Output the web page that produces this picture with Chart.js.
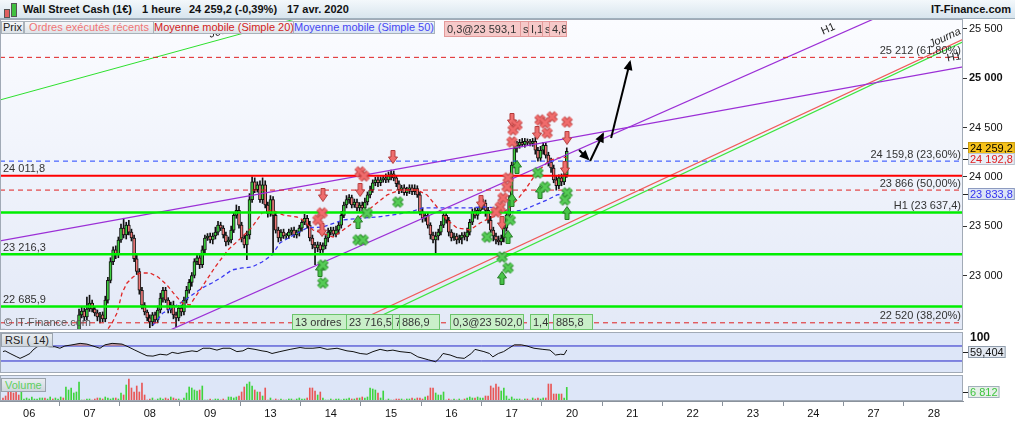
<!DOCTYPE html>
<html lang="fr">
<head>
<meta charset="UTF-8">
<title>Wall Street Cash (1€) - 1 heure</title>
<script src="https://cdn.jsdelivr.net/npm/chart.js@4.4.1/dist/chart.umd.min.js"></script>
<style>
  body { margin: 0; width: 1015px; height: 422px; overflow: hidden; position: relative; background: #fff;
         font-family: "Liberation Sans", Arial, sans-serif; }
  canvas { position: absolute; left: 0; }
  #cMain { top: 19px; }
  #cRsi { top: 332px; }
  #cVol { top: 375px; }
  .abs { position: absolute; white-space: nowrap; }
  #header { left: 0; top: 0; width: 1015px; height: 19px; box-sizing: border-box;
            background: linear-gradient(#f3f8fb, #d8e5ee); border-bottom: 1px solid #9fb0bd; }
  .title { top: 3px; font-size: 11px; font-weight: bold; color: #111; }
  .tab { top: 21px; height: 11px; line-height: 11px; font-size: 11px; border: 1px solid #a9b2ba;
         background: linear-gradient(#f5f7f9, #dde3e8); text-align: center; overflow: hidden; }
  .pink { top: 21px; height: 14px; line-height: 14px; font-size: 11px; color: #333; background: #f6c9c9;
          border: 1px solid #e39a9a; padding-left: 2px; overflow: hidden; }
  .greenbox { top: 314px; height: 14px; line-height: 14px; font-size: 11px; color: #333; background: #c9efc9;
              border: 1px solid #6cc46c; padding-left: 2px; overflow: hidden; }
  .panelTag { font-size: 11px; height: 12px; line-height: 12px; padding: 0 3px; border: 1px solid #9aa3ad;
              background: linear-gradient(#e9edf1, #cfd6dd); }
</style>
</head>
<body>
<div id="header" class="abs"></div>
<div class="abs" style="left:4px;top:9px;width:4px;height:7px;background:#e06060;border:1px solid #555;"></div>
<div class="abs" style="left:11px;top:3px;width:4px;height:12px;background:#40c040;border:1px solid #555;"></div>
<div class="abs title" style="left:23px;">Wall Street Cash (1€)</div>
<div class="abs title" style="left:142px;">1 heure</div>
<div class="abs title" style="left:189px;">24 259,2 (-0,39%)</div>
<div class="abs title" style="left:287px;">17 avr. 2020</div>
<div class="abs title" style="right:4px;">IT-Finance.com</div>

<canvas id="cMain" width="1015" height="311"></canvas>
<canvas id="cRsi" width="1015" height="41"></canvas>
<canvas id="cVol" width="1015" height="47"></canvas>

<div class="abs tab" style="left:1px;width:21px;color:#222;">Prix</div>
<div class="abs tab" style="left:24px;width:128px;color:#f07575;">Ordres exécutés récents</div>
<div class="abs tab" style="left:153px;width:139px;color:#d21c1c;">Moyenne mobile (Simple 20)</div>
<div class="abs tab" style="left:293px;width:140px;color:#4646f2;background:linear-gradient(#eef3fb,#d7e2f4);">Moyenne mobile (Simple 50)</div>

<div class="abs pink" style="left:444px;width:76px;">0,3@23 593,1</div>
<div class="abs pink" style="left:520px;width:6px;">s</div>
<div class="abs pink" style="left:528px;width:13px;">I,1</div>
<div class="abs pink" style="left:542px;width:5px;">s</div>
<div class="abs pink" style="left:549px;width:14px;">4,8</div>

<div class="abs" style="left:4px;top:316px;font-size:11px;color:#555;">© IT-Finance.com</div>
<div class="abs greenbox" style="left:292px;width:52px;">13 ordres</div>
<div class="abs greenbox" style="left:346px;width:44px;">23 716,5</div>
<div class="abs greenbox" style="left:392px;width:5px;">7</div>
<div class="abs greenbox" style="left:399px;width:37px;">886,9</div>
<div class="abs greenbox" style="left:450px;width:70px;">0,3@23 502,0</div>
<div class="abs greenbox" style="left:530px;width:15px;">1,4</div>
<div class="abs greenbox" style="left:553px;width:36px;">885,8</div>

<div class="abs panelTag" style="left:1px;top:333px;color:#222;">RSI ( 14)</div>
<div class="abs panelTag" style="left:1px;top:378px;color:#5fcf5f;">Volume</div>

<script>
// ---- data ----
const dayLabels = ['06', '07', '08', '09', '13', '14', '15', '16', '17', '20', '21', '22', '23', '24', '27', '28'];
const dayStarts = [10, 33, 56, 79, 102, 125, 148, 171, 194, 217, 240, 263, 286, 309, 332, 355];

const firstOpen = 21460;
const closes = [
  21450, 21420, 21400, 21380, 21350, 21320, 21300, 21330, 21400, 21500,
  21650, 21800, 21900, 22000, 22050, 22100, 22080, 22150, 22200, 22180,
  22220, 22250, 22300, 22280, 22320, 22350, 22380, 22400, 22420, 22600,
  22640, 22580, 22660, 22720, 22660, 22620, 22580, 22600, 22560, 22750,
  22950, 23140, 23260, 23210, 23360, 23480, 23410, 23510, 23440, 23380,
  23170, 23040, 22850, 22700, 22630, 22570, 22530, 22600, 22550, 22650,
  22770, 22850, 22750, 22650, 22700, 22600, 22570, 22670, 22630, 22750,
  22850, 22930, 23000, 23140, 23180, 23110, 23260, 23380, 23400, 23360,
  23400, 23440, 23510, 23480, 23410, 23340, 23360, 23460, 23610, 23660,
  23510, 23380, 23310, 23410, 23770, 23950, 23870, 23920, 23770, 23920,
  23715, 23630, 23770, 23610, 23460, 23380, 23440, 23400, 23400, 23440,
  23460, 23410, 23440, 23480, 23540, 23580, 23510, 23380, 23310, 23280,
  23310, 23260, 23300, 23380, 23440, 23460, 23420, 23460, 23510, 23610,
  23715, 23770, 23790, 23715, 23745, 23685, 23715, 23685, 23745, 23817,
  23867, 23940, 23970, 23940, 23970, 23990, 23970, 24010, 24030, 23990,
  23930, 23870, 23890, 23840, 23870, 23890, 23850, 23880, 23817, 23645,
  23580, 23610, 23510, 23410, 23360, 23400, 23440, 23510, 23610, 23560,
  23440, 23380, 23400, 23360, 23380, 23410, 23390, 23440, 23540, 23645,
  23610, 23660, 23700, 23735, 23660, 23560, 23460, 23400, 23360, 23340,
  23380, 23480, 23610, 23770, 24120, 24290, 24320, 24350, 24330, 24360,
  24350, 24340, 24360, 24270, 24190, 24270, 24320, 24220, 24150, 24090,
  23970, 23910, 23990, 23950, 24020, 24259.2
];
const wickUp = [
  30, 20, 25, 20, 30, 20, 25, 30, 40, 30,   50, 40, 30, 40, 30, 25, 30, 20, 30, 25,
  30, 20, 30, 25, 40, 30, 25, 30, 20, 60,   40, 30, 120, 80, 30, 20, 30, 25, 30, 40,
  30, 40, 30, 40, 30, 40, 100, 30, 50, 30,  30, 40, 30, 30, 25, 20, 30, 25, 30, 40,
  50, 30, 30, 25, 30, 40, 30, 25, 30, 30,   40, 30, 30, 30, 40, 30, 40, 30, 25, 30,
  30, 50, 40, 30, 25, 30, 30, 40, 30, 55,   40, 30, 30, 40, 60, 50, 40, 30, 40, 70,
  40, 30, 40, 30, 25, 30, 25, 30, 25, 30,   25, 30, 20, 30, 25, 40, 30, 40, 30, 25,
  30, 25, 30, 25, 40, 30, 30, 40, 30, 40,   30, 40, 30, 25, 30, 30, 25, 30, 40, 30,
  40, 30, 25, 30, 30, 25, 40, 40, 40, 30,   25, 30, 25, 30, 25, 30, 30, 40, 30, 25,
  40, 30, 30, 25, 30, 40, 30, 40, 30, 25,   30, 25, 30, 25, 30, 25, 30, 40, 30, 30,
  40, 30, 30, 40, 30, 30, 40, 30, 30, 40,   30, 40, 30, 40, 30, 105, 40, 30, 40, 30,
  25, 30, 30, 40, 30, 40, 30, 25, 30, 40,   30, 40, 30, 40, 30, 35
];
const wickDn = [
  30, 25, 30, 20, 30, 25, 40, 30, 20, 30,   30, 40, 30, 25, 30, 40, 30, 25, 30, 20,
  30, 25, 30, 40, 30, 25, 30, 20, 30, 40,   30, 40, 30, 25, 30, 30, 40, 60, 30, 30,
  30, 25, 30, 40, 30, 25, 30, 40, 30, 30,   30, 30, 40, 40, 30, 30, 60, 40, 30, 30,
  30, 40, 25, 30, 30, 40, 90, 30, 40, 30,   30, 30, 40, 25, 30, 40, 30, 30, 25, 30,
  40, 30, 30, 25, 30, 40, 30, 30, 25, 30,   30, 40, 30, 150, 40, 30, 30, 25, 30, 40,
  30, 40, 30, 380, 30, 40, 30, 25, 30, 25,  30, 25, 30, 40, 30, 25, 30, 30, 40, 170,
  40, 30, 25, 30, 40, 30, 25, 30, 40, 30,   25, 30, 40, 30, 25, 30, 40, 30, 25, 30,
  30, 25, 30, 40, 30, 25, 30, 25, 40, 30,   30, 40, 30, 25, 30, 40, 30, 30, 25, 30,
  40, 30, 30, 40, 30, 130, 40, 30, 25, 30,  40, 30, 25, 40, 30, 60, 30, 40, 30, 25,
  30, 40, 30, 30, 60, 30, 25, 50, 40, 30,   30, 40, 30, 40, 30, 30, 40, 30, 25, 30,
  30, 25, 30, 40, 30, 30, 40, 30, 40, 45,   30, 45, 30, 40, 30, 25
];
const volumes = [
  1500, 2500, 5000, 5000, 4000, 5500, 3000, 5000, 1000, 1500,
  1000, 2000, 1000, 1000, 1500, 1500, 1500, 1000, 2000, 1000,
  1500, 1000, 2000, 1500, 7000, 5500, 6500, 4000, 4500, 9500,
  500, 500, 1000, 1000, 500, 1000, 1500, 1500, 1000, 2000,
  1500, 1000, 1500, 1500, 1000, 4000, 3000, 8000, 11000, 6500,
  4500, 7500, 4500, 9000, 3000, 500, 1000, 1500, 500, 1000,
  1500, 1000, 1500, 1000, 2000, 1500, 1000, 1000, 500, 1500,
  4000, 7000, 6500, 5500, 5000, 5500, 7500, 500, 500, 1000,
  500, 1000, 1000, 500, 1000, 500, 2000, 2000, 1500, 2000,
  2500, 4500, 7000, 8500, 9500, 7500, 5500, 4500, 4500, 2500,
  6500, 500, 1500, 500, 1000, 500, 1000, 500, 500, 1000,
  1000, 500, 1000, 1500, 1000, 1000, 1500, 6500, 6500, 5000,
  3000, 4500, 1500, 500, 500, 1000, 500, 1000, 1000, 500,
  1000, 1000, 1500, 1000, 1000, 1500, 1500, 2000, 1500, 2000,
  6500, 6000, 5500, 4000, 1500, 5000, 500, 1000, 500, 500,
  1000, 1000, 1000, 500, 1000, 1000, 1500, 1000, 1500, 1500,
  1000, 2000, 2500, 6500, 6500, 4000, 3000, 3000, 4500, 500,
  1000, 500, 1000, 500, 1000, 500, 1000, 1500, 2000, 1500,
  1500, 2000, 1500, 1500, 2500, 2500, 7500, 6500, 8500, 7000,
  5000, 6500, 2500, 1000, 2000, 1000, 1000, 1000, 500, 1000,
  1000, 500, 1500, 1000, 1500, 1000, 1500, 1500, 8500, 8500,
  3500, 3500, 3500, 3500, 1500, 6812
];

const rsiSlots = [0, 0.8, 2.7, 5.3, 6.5, 8.4, 10.3, 11.4, 13, 14.9, 17.9, 19.8, 21.7, 23.6, 26.3, 29.4, 32, 34.3, 37, 38.9,
  41.6, 45.4, 47.7, 50.3, 53, 54.9, 57.2, 59.9, 62.5, 64.5, 66.7, 68.6, 72.1, 74, 76.3, 78.9, 81.6, 83.9, 86.6, 89.2,
  91.5, 93.4, 96.1, 98.8, 100.7, 102.6, 105.6, 109.5, 113.3, 115.2, 118.2, 120.9, 123.6, 127.4, 131.2, 133.5, 136.2, 138.8, 141.1, 143.8,
  146.5, 148.7, 151.4, 155.5, 158.2, 162.3, 165, 166.4, 167.8, 170.5, 173.2, 175.9, 178.6, 180, 183.4, 185.5, 186.8, 188.9, 190.9, 192.9,
  195, 197.7, 199.8, 202.5, 205.9, 208.6, 210.7, 212.7, 214, 215];
const rsiValues = [55, 57, 50, 41, 37, 43, 50, 59, 68, 70, 68, 68, 64, 70, 73, 77, 75, 70, 64, 73,
  77, 75, 68, 59, 50, 44, 43, 48, 46, 53, 50, 53, 57, 55, 64, 64, 59, 64, 64, 55,
  57, 64, 61, 57, 55, 50, 55, 61, 66, 64, 64, 66, 61, 64, 57, 55, 50, 48, 55, 61,
  57, 59, 55, 52, 41, 33, 28, 37, 50, 46, 39, 37, 50, 61, 55, 50, 41, 50, 55, 64,
  73, 73, 70, 64, 61, 59, 46, 48, 47, 59.404];
const rsiBands = [70, 30];

// moyennes mobiles [créneau, valeur]
const sma20 = [[37, 22346], [41.6, 22518], [43.5, 22620], [45.4, 22822], [47.3, 22924], [49.6, 22985], [52.3, 23025],
  [56.1, 23025], [59.1, 22985], [62.5, 22904], [65.6, 22802], [68.3, 22721], [71.3, 22701], [75.9, 22883], [80.9, 23086],
  [85.8, 23259], [91.2, 23390], [95, 23492], [98.8, 23634], [102.6, 23664], [106.8, 23614], [112.1, 23593], [114.4, 23563],
  [118.2, 23461], [125.9, 23390], [133.5, 23533], [142.6, 23735], [146.5, 23817], [151.4, 23867], [157.9, 23867],
  [161.7, 23817], [165.5, 23695], [169.3, 23563], [173.2, 23482], [178.1, 23461], [181.9, 23532], [185.7, 23583],
  [190.7, 23634], [196, 23766], [199.1, 23867], [203.7, 24050], [208.6, 24171], [213.6, 24202], [215, 24192.8]];
const sma50 = [[57.2, 22498], [61, 22620], [64.5, 22670], [68.3, 22731], [72.1, 22802], [75.9, 22873], [79.7, 22924],
  [83.5, 22985], [87.3, 23056], [91.2, 23076], [95, 23086], [98.8, 23137], [102.6, 23208], [105.6, 23330], [109.5, 23390],
  [115.9, 23482], [122, 23492], [129.7, 23563], [137.3, 23583], [142.6, 23593], [148.7, 23614], [155.2, 23644],
  [160.2, 23685], [165.5, 23685], [171.6, 23685], [178.1, 23685], [183.1, 23695], [188.4, 23685], [193.4, 23644],
  [198.3, 23664], [207.5, 23766], [211.3, 23817], [215, 23833.8]];

// niveaux horizontaux
const supportLevels = [23637.4, 23216.3, 22685.9];
const resistanceLevel = 24011.8;
const fiboLevels = [25212, 24159.8, 23866, 22520];
const fiboPercents = [61.8, 23.6, 50, 38.2];
const priceTicks = [23000, 23500, 24000, 24500, 25000, 25500];

// lignes de tendance [créneau, valeur]
const trendPurpleA = [[-1.14, 23350], [366.1, 25115]];
const trendPurpleB = [[61.8, 22424], [342.1, 25720]];
const trendGreenTop = [[-1.14, 24780], [120, 25664]];
const trendRedLow = [[124.7, 22406], [366.1, 25395]];
const trendGreenLow = [[128.5, 22396], [366.1, 25369]];
const arrowPaths = [
  [[219.7, 24273], [223.1, 24182]],
  [[223.9, 24161], [228.8, 24435]],
  [[231.9, 24395], [239.1, 25165]]
];

// ordres exécutés
const redCrosses = [[121.7, 23634], [120.1, 23563], [136.2, 24050], [137.7, 24009], [196, 24526], [194.5, 24476],
  [194.1, 24354], [204.8, 24577], [209.4, 24608], [206.7, 24547], [207.5, 24445], [215.1, 24557], [192.6, 23989],
  [192.2, 23898], [190.7, 23786], [189.6, 23695], [188, 23644]];
const redArrows = [[122, 23817], [121.7, 23461], [136.2, 23867], [148.7, 24202], [182.3, 23745], [194.1, 24577],
  [203.7, 24445], [215.1, 24395], [214.3, 24090], [190.3, 23533]];
const greenCrosses = [[150.6, 23745], [138.8, 23634], [135.4, 23360], [137.3, 23360], [122, 23106], [122, 22924],
  [184.6, 23390], [190.3, 23187], [192.6, 23076], [206.7, 23898], [204, 24040], [215.1, 23837], [214.3, 23766], [193.4, 23563]];
const greenArrows = [[135.4, 23543], [120.9, 23056], [196, 24101], [194.1, 23766], [204.8, 23847], [190.3, 22975],
  [192.6, 23390], [215.1, 23634]];

const lastPrice = 24259.2, lastSma20 = 24192.8, lastSma50 = 23833.8;

// ---- rendu ----
const FONT = '"Liberation Sans", Arial, sans-serif';
const X_MIN = -1.14, X_MAX = 366.1, AXIS_W = 52;

const fmtNum = (v, dec) => {
  const [i, f] = v.toFixed(dec).split('.');
  const ii = i.replace(/\B(?=(\d{3})+(?!\d))/g, ' ');
  return f !== undefined ? ii + ',' + f : ii;
};
const pts = arr => arr.map(([x, y]) => ({ x, y }));
const flat = v => [{ x: X_MIN, y: v }, { x: X_MAX, y: v }];

const opens = closes.map((c, i) => i === 0 ? firstOpen : closes[i - 1]);
const isUp = closes.map((c, i) => c >= opens[i]);

function makeCross(fill, edge) {
  const c = document.createElement('canvas');
  c.width = c.height = 13;
  const g = c.getContext('2d');
  const path = () => { g.beginPath(); g.moveTo(2.5, 2.5); g.lineTo(10.5, 10.5); g.moveTo(10.5, 2.5); g.lineTo(2.5, 10.5); };
  g.strokeStyle = edge; g.lineWidth = 5; path(); g.stroke();
  g.strokeStyle = fill; g.lineWidth = 3; path(); g.stroke();
  return c;
}
function makeArrow(fill, edge, down) {
  const c = document.createElement('canvas');
  c.width = 10; c.height = 14;
  const g = c.getContext('2d');
  const shape = [[3, 0.5], [7, 0.5], [7, 7], [9.5, 7], [5, 13.5], [0.5, 7], [3, 7]];
  g.beginPath();
  shape.forEach(([x, y], i) => { const yy = down ? y : 14 - y; i ? g.lineTo(x, yy) : g.moveTo(x, yy); });
  g.closePath();
  g.fillStyle = fill; g.fill();
  g.strokeStyle = edge; g.lineWidth = 1; g.stroke();
  return c;
}

const panelFrame = {
  id: 'panelFrame',
  beforeDraw(chart, args, opts) {
    const { ctx, chartArea: a } = chart;
    ctx.save();
    if (opts.gradient) {
      const g = ctx.createLinearGradient(0, a.top, 0, a.bottom);
      g.addColorStop(0, '#fbfcff');
      g.addColorStop(1, '#e3e9f7');
      ctx.fillStyle = g;
    } else {
      ctx.fillStyle = opts.bg;
    }
    ctx.fillRect(a.left, a.top, a.right - a.left, a.bottom - a.top);
    ctx.restore();
  },
  afterDraw(chart) {
    const { ctx, chartArea: a } = chart;
    ctx.save();
    ctx.strokeStyle = '#a1aab6';
    ctx.lineWidth = 1;
    ctx.strokeRect(a.left + 0.5, a.top + 0.5, a.right - a.left - 1, a.bottom - a.top - 1);
    ctx.restore();
  }
};

function axisBox(ctx, a, yPix, text, fill, stroke, color, bold) {
  ctx.save();
  ctx.fillStyle = '#222';
  ctx.fillRect(a.right, Math.round(yPix), 5, 1);
  ctx.font = (bold ? 'bold ' : '') + '11px ' + FONT;
  const w = ctx.measureText(text).width + 4;
  const top = Math.round(yPix - 6);
  ctx.fillStyle = fill;
  ctx.fillRect(a.right + 5, top, w, 12);
  if (stroke) { ctx.strokeStyle = stroke; ctx.strokeRect(a.right + 5.5, top + 0.5, w - 1, 11); }
  ctx.fillStyle = color;
  ctx.textBaseline = 'middle';
  ctx.textAlign = 'left';
  ctx.fillText(text, a.right + 7, top + 6.5);
  ctx.restore();
}

function textAlong(ctx, x, y, seg, px, py, text) {
  const x1 = x.getPixelForValue(seg[0][0]), y1 = y.getPixelForValue(seg[0][1]);
  const x2 = x.getPixelForValue(seg[1][0]), y2 = y.getPixelForValue(seg[1][1]);
  const ang = Math.atan2(y2 - y1, x2 - x1);
  ctx.save();
  ctx.translate(px, py);
  ctx.rotate(ang);
  ctx.fillText(text, 0, 0);
  ctx.restore();
}

const mainDecor = {
  id: 'mainDecor',
  afterDatasetsDraw(chart) {
    const { ctx, chartArea: a, scales: { x, y } } = chart;
    ctx.save();
    ctx.beginPath();
    ctx.rect(a.left, a.top, a.right - a.left, a.bottom - a.top);
    ctx.clip();
    // pointes des flèches
    ctx.fillStyle = '#000';
    arrowPaths.forEach(p => {
      const x1 = x.getPixelForValue(p[0][0]), y1 = y.getPixelForValue(p[0][1]);
      const x2 = x.getPixelForValue(p[1][0]), y2 = y.getPixelForValue(p[1][1]);
      const ang = Math.atan2(y2 - y1, x2 - x1);
      ctx.save();
      ctx.translate(x2, y2);
      ctx.rotate(ang);
      ctx.beginPath();
      ctx.moveTo(2, 0); ctx.lineTo(-8, -4.5); ctx.lineTo(-8, 4.5); ctx.closePath();
      ctx.fill();
      ctx.restore();
    });
    // étiquettes des niveaux
    ctx.font = '11px ' + FONT;
    ctx.fillStyle = '#333';
    ctx.textBaseline = 'bottom';
    ctx.textAlign = 'left';
    [resistanceLevel, supportLevels[1], supportLevels[2]].forEach(v => {
      ctx.fillText(fmtNum(v, 1), a.left + 3, y.getPixelForValue(v) - 1);
    });
    ctx.textAlign = 'right';
    fiboLevels.forEach((v, i) => {
      const t = fmtNum(v, v % 1 ? 1 : 0) + ' (' + fmtNum(fiboPercents[i], 2) + '%)';
      ctx.fillText(t, a.right - 2, y.getPixelForValue(v) - 1);
    });
    ctx.fillText('H1 (' + fmtNum(supportLevels[0], 1) + ')', a.right - 2, y.getPixelForValue(supportLevels[0]) - 1);
    // étiquettes des lignes de tendance (canvas décalé de 19 px)
    ctx.textAlign = 'left';
    ctx.textBaseline = 'bottom';
    ctx.fillStyle = '#222';
    textAlong(ctx, x, y, trendPurpleB, 824, 18, 'H1');
    textAlong(ctx, x, y, trendPurpleA, 948, 45, 'H1');
    ctx.font = 'italic 11px ' + FONT;
    textAlong(ctx, x, y, trendGreenTop, 211, 21, 'Journa');
    textAlong(ctx, x, y, trendRedLow, 932, 31, 'Journa');
    ctx.restore();
  },
  afterDraw(chart) {
    const { ctx, chartArea: a, scales: { y } } = chart;
    axisBox(ctx, a, y.getPixelForValue(lastPrice) - 3, fmtNum(lastPrice, 1), '#f6c21a', '#c89a10', '#000');
    axisBox(ctx, a, y.getPixelForValue(lastSma20) + 1, fmtNum(lastSma20, 1), '#e9edf5', '#b9c1cd', '#e02020');
    axisBox(ctx, a, y.getPixelForValue(lastSma50) + 1, fmtNum(lastSma50, 1), '#dce4f5', '#8d9bc0', '#3434f0');
  }
};

const lineDs = (data, color, width, dash, order) => ({
  type: 'line', data, borderColor: color, borderWidth: width, borderDash: dash || [],
  pointRadius: 0, fill: false, tension: 0, order
});

const markerDs = (arr, img, order) => ({
  type: 'line', data: pts(arr), showLine: false, pointStyle: img, pointRadius: 6, order
});

const hiddenX = { type: 'linear', min: X_MIN, max: X_MAX, offset: false, display: false };
const noPad = s => { s.width = AXIS_W; s.paddingTop = 0; s.paddingBottom = 0; };

new Chart(document.getElementById('cMain'), {
  type: 'bar',
  data: {
    datasets: [
      {
        data: closes.map((c, i) => ({ x: i, y: [Math.min(opens[i], c) - wickDn[i], Math.max(opens[i], c) + wickUp[i]] })),
        backgroundColor: '#111', barThickness: 1, grouped: false, order: 20
      },
      {
        data: closes.map((c, i) => ({ x: i, y: [Math.min(opens[i], c), Math.max(opens[i], c)] })),
        backgroundColor: isUp.map(u => u ? '#3fcf3f' : '#ef7878'),
        borderColor: '#111', borderWidth: 1, borderSkipped: false, barThickness: 3, minBarLength: 1,
        grouped: false, order: 19
      },
      lineDs(pts(sma20), '#e02828', 1.3, [4, 3], 15),
      lineDs(pts(sma50), '#3a3af2', 1.3, [4, 3], 15),
      lineDs(pts(trendPurpleA), '#9b2fd6', 1.2, null, 12),
      lineDs(pts(trendPurpleB), '#9b2fd6', 1.2, null, 12),
      lineDs(pts(trendGreenTop), '#2ee02e', 1, null, 12),
      lineDs(pts(trendRedLow), '#f05a5a', 1.2, null, 12),
      lineDs(pts(trendGreenLow), '#3ee43e', 1.2, null, 12),
      lineDs(flat(resistanceLevel), '#ff0000', 2, null, 8),
      ...supportLevels.map(v => lineDs(flat(v), '#00ee00', 2.5, null, 8)),
      lineDs(flat(fiboLevels[1]), '#2244ff', 1, [5, 4], 8),
      ...[fiboLevels[0], fiboLevels[2], fiboLevels[3]].map(v => lineDs(flat(v), '#e02020', 1, [5, 4], 8)),
      ...arrowPaths.map(p => lineDs(pts(p), '#000', 2, null, 5)),
      markerDs(greenArrows, makeArrow('#48c448', '#237a23', false), 2),
      markerDs(redArrows, makeArrow('#ef6e6e', '#b23a3a', true), 2),
      markerDs(greenCrosses, makeCross('#56cc56', '#2b8a2b'), 1),
      markerDs(redCrosses, makeCross('#f06c6c', '#c04646'), 0)
    ]
  },
  options: {
    responsive: false, animation: false, devicePixelRatio: 1,
    layout: { padding: 0, autoPadding: false },
    plugins: { legend: { display: false }, tooltip: { enabled: false }, panelFrame: { gradient: true } },
    scales: {
      x: hiddenX,
      y: {
        position: 'right', min: 22447, max: 25601,
        afterFit: noPad,
        afterBuildTicks(s) { s.ticks = priceTicks.map(v => ({ value: v })); },
        grid: { drawOnChartArea: false, drawTicks: true, tickLength: 4, tickColor: '#333' },
        border: { display: false },
        ticks: {
          padding: 2, color: '#111',
          font: c => ({ family: FONT, size: 11, weight: c.tick && c.tick.value === 25000 ? 'bold' : 'normal' }),
          callback: v => fmtNum(v, 0)
        }
      }
    }
  },
  plugins: [panelFrame, mainDecor]
});

const rsiDecor = {
  id: 'rsiDecor',
  afterDraw(chart) {
    const { ctx, chartArea: a, scales: { y } } = chart;
    ctx.save();
    ctx.fillStyle = '#111';
    ctx.font = 'bold 12px ' + FONT;
    ctx.textBaseline = 'middle';
    ctx.fillText('100', a.right + 7, y.getPixelForValue(100) + 3);
    ctx.restore();
    axisBox(ctx, a, y.getPixelForValue(rsiValues[rsiValues.length - 1]) + 2, fmtNum(rsiValues[rsiValues.length - 1], 3), '#e2e8f1', '#8f9cab', '#111');
  }
};

new Chart(document.getElementById('cRsi'), {
  type: 'line',
  data: {
    datasets: [
      {
        data: rsiSlots.map((s, i) => ({ x: s, y: rsiValues[i] })),
        borderColor: '#111', borderWidth: 1, pointRadius: 0, tension: 0, order: 0,
        fill: { target: { value: 70 }, above: 'rgba(186,128,134,0.75)', below: 'rgba(0,0,0,0)' }
      },
      ...rsiBands.map(v => ({ data: flat(v), borderColor: '#2424c8', borderWidth: 1, pointRadius: 0, fill: false, order: 1 }))
    ]
  },
  options: {
    responsive: false, animation: false, devicePixelRatio: 1,
    layout: { padding: 0, autoPadding: false },
    plugins: { legend: { display: false }, tooltip: { enabled: false }, panelFrame: { bg: '#dde6f8' } },
    scales: {
      x: hiddenX,
      y: {
        position: 'right', min: -2, max: 107.3,
        afterFit: noPad,
        ticks: { display: false }, grid: { display: false }, border: { display: false }
      }
    }
  },
  plugins: [panelFrame, rsiDecor]
});

const volDecor = {
  id: 'volDecor',
  afterDraw(chart) {
    const { ctx, chartArea: a, scales: { y } } = chart;
    const v = volumes[volumes.length - 1];
    axisBox(ctx, a, y.getPixelForValue(v) + 5, fmtNum(v, 0), '#e6efe9', '#a3b0bb', '#3fc43f');
  }
};

new Chart(document.getElementById('cVol'), {
  type: 'bar',
  data: {
    datasets: [{
      data: volumes.map((v, i) => ({ x: i, y: v })),
      backgroundColor: isUp.map(u => u ? '#3ed43e' : '#e85656'),
      barThickness: 1
    }]
  },
  options: {
    responsive: false, animation: false, devicePixelRatio: 1,
    layout: { padding: 0, autoPadding: false },
    plugins: { legend: { display: false }, tooltip: { enabled: false }, panelFrame: { bg: '#dde6f8' } },
    scales: {
      x: {
        type: 'linear', min: X_MIN, max: X_MAX, offset: false,
        afterFit(s) { s.height = 21; },
        afterBuildTicks(s) { s.ticks = dayStarts.map(v => ({ value: v })); },
        grid: { drawOnChartArea: false, drawTicks: true, tickLength: 5, color: '#8a929c' },
        border: { display: true, color: '#8a929c' },
        ticks: {
          autoSkip: false, maxRotation: 0, padding: 1, color: '#111',
          font: { family: FONT, size: 11 },
          callback: (v, i) => dayLabels[i]
        }
      },
      y: {
        position: 'right', min: 0, max: 13000,
        afterFit: noPad,
        ticks: { display: false }, grid: { display: false }, border: { display: false }
      }
    }
  },
  plugins: [panelFrame, volDecor]
});
</script>
</body>
</html>
